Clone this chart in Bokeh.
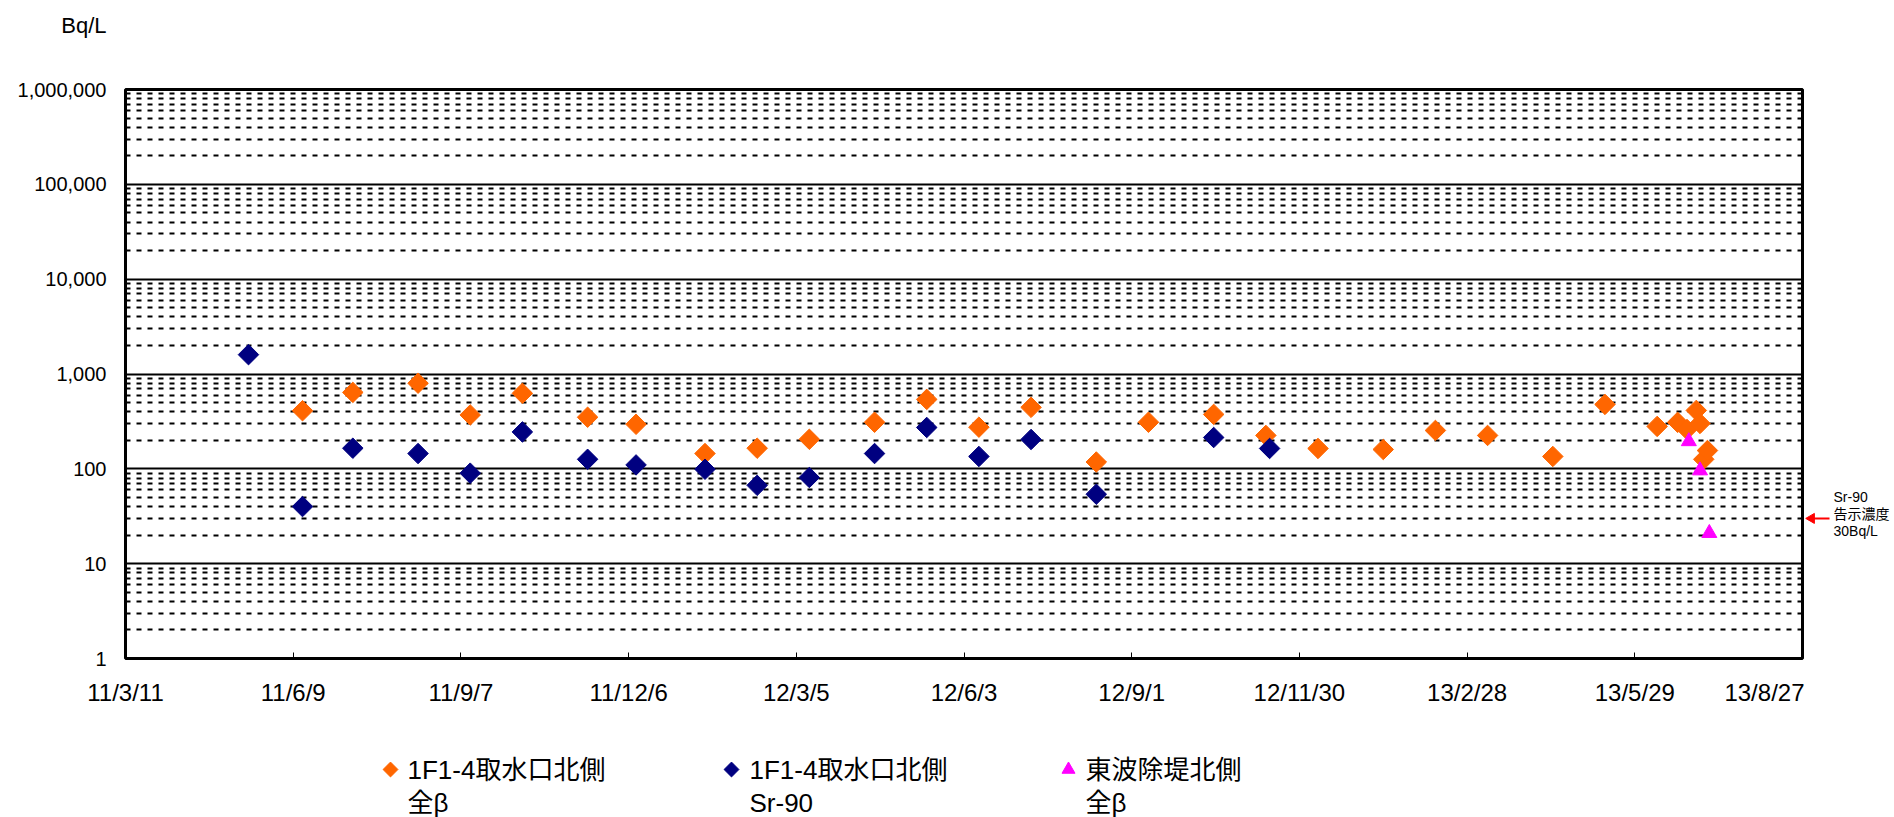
import numpy as np
import pandas as pd
from bokeh.plotting import figure
from bokeh.models import (Range1d, FixedTicker, NumeralTickFormatter, LinearAxis,
                          ColumnDataSource, GridBox)
from bokeh.embed import file_html
from bokeh.resources import INLINE
from bokeh.core.properties import value

# ---------------- data ----------------
origin = "2011-03-11"
tick_days = [0, 90, 180, 270, 360, 450, 540, 630, 720, 810, 900]
tick_labels = ["11/3/11", "11/6/9", "11/9/7", "11/12/6", "12/3/5", "12/6/3",
               "12/9/1", "12/11/30", "13/2/28", "13/5/29", "13/8/27"]
y_ticks = [1, 10, 100, 1000, 10000, 100000, 1000000]

beta_dates = ["2011-06-14", "2011-07-11", "2011-08-15", "2011-09-12", "2011-10-10",
              "2011-11-14", "2011-12-10", "2012-01-16", "2012-02-13", "2012-03-12",
              "2012-04-16", "2012-05-14", "2012-06-11", "2012-07-09", "2012-08-13",
              "2012-09-10", "2012-10-15", "2012-11-12", "2012-12-10", "2013-01-14",
              "2013-02-11", "2013-03-11", "2013-04-15", "2013-05-13", "2013-06-10",
              "2013-06-21", "2013-06-26", "2013-07-01", "2013-07-03", "2013-07-05",
              "2013-07-07"]
beta_vals = [410, 640, 800, 370, 625, 350, 295, 145, 165, 205,
             310, 540, 275, 445, 118, 310, 375, 225, 164, 160,
             254, 225, 135, 478, 280, 309, 260, 413, 301, 126, 156]

sr_dates = ["2011-05-16", "2011-06-14", "2011-07-11", "2011-08-15", "2011-09-12",
            "2011-10-10", "2011-11-14", "2011-12-10", "2012-01-16", "2012-02-13",
            "2012-03-12", "2012-04-16", "2012-05-14", "2012-06-11", "2012-07-09",
            "2012-08-13", "2012-10-15", "2012-11-14"]
sr_vals = [1600, 40, 165, 145, 90, 245, 126, 110, 99, 67,
           81, 145, 273, 135, 204, 54, 214, 164]

east_dates = ["2013-06-27", "2013-07-03", "2013-07-08"]
east_vals = [195, 96, 21]

series_names = [("1F1-4取水口北側", "全β"), ("1F1-4取水口北側", "Sr-90"), ("東波除堤北側", "全β")]
series_colors = ["#FF6600", "#000080", "#FF00FF"]
limit_value = 30
limit_text = ["Sr-90", "告示濃度", "30Bq/L"]
limit_text_y = [50, 33, 22]
unit_text = "Bq/L"

# ---------------- layout constants (page pixels) ----------------
FL, FR, FT, FB = 125, 1802, 89, 658
TOP_H = 60
MAIN_H = 660
LEG_H = 97
LEFT_W = FR + 2
RIGHT_W = 88
FONT = "'Liberation Sans', 'Noto Sans CJK JP'"


def to_days(dates):
    return list((pd.to_datetime(dates) - pd.Timestamp(origin)).days)


def blank(fig):
    fig.background_fill_color = "white"
    fig.border_fill_color = "white"
    fig.outline_line_color = None
    fig.grid.visible = False


# ---------------- top strip: unit label ----------------
top = figure(width=LEFT_W, height=TOP_H, x_range=Range1d(FL, FR), y_range=Range1d(TOP_H, 0),
             output_backend="svg", toolbar_location=None,
             min_border_left=FL, min_border_right=LEFT_W - FR, min_border_top=0, min_border_bottom=0,
             x_axis_location=None, y_axis_location=None)
blank(top)
unit_axis = LinearAxis(ticker=FixedTicker(ticks=[25]), major_label_overrides={25: unit_text},
                       major_tick_in=0, major_tick_out=0, minor_tick_in=0, minor_tick_out=0,
                       axis_line_color=None, major_label_standoff=FL - 106,
                       major_label_text_font=FONT, major_label_text_font_size="22px",
                       major_label_text_color="black")
top.add_layout(unit_axis, "left")

# ---------------- main chart ----------------
p = figure(width=LEFT_W, height=MAIN_H, y_axis_type="log",
           x_range=Range1d(tick_days[0], tick_days[-1]), y_range=Range1d(y_ticks[0], y_ticks[-1]),
           output_backend="svg", toolbar_location=None,
           min_border_left=FL, min_border_right=LEFT_W - FR,
           min_border_top=FT - TOP_H, min_border_bottom=TOP_H + MAIN_H - FB)
p.background_fill_color = "white"
p.border_fill_color = "white"
p.outline_line_color = "black"
p.outline_line_width = 3

minor = [m * d for d in y_ticks[:-1] for m in range(2, 10)]
p.yaxis.ticker = FixedTicker(ticks=y_ticks, minor_ticks=minor)
p.yaxis.formatter = NumeralTickFormatter(format="0,0")
p.yaxis.major_tick_in = 0
p.yaxis.major_tick_out = 0
p.yaxis.minor_tick_in = 0
p.yaxis.minor_tick_out = 0
p.yaxis.axis_line_color = None
p.yaxis.major_label_standoff = FL - 106
p.yaxis.major_label_text_font = "Liberation Sans"
p.yaxis.major_label_text_font_size = "20px"
p.yaxis.major_label_text_color = "black"

p.xaxis.ticker = FixedTicker(ticks=tick_days, minor_ticks=[])
p.xaxis.major_label_overrides = {d: t for d, t in zip(tick_days, tick_labels)}
p.xaxis.major_tick_in = 6
p.xaxis.major_tick_out = 0
p.xaxis.major_tick_line_color = "black"
p.xaxis.minor_tick_in = 0
p.xaxis.minor_tick_out = 0
p.xaxis.axis_line_color = None
p.xaxis.major_label_standoff = 20
p.xaxis.major_label_text_font = "Liberation Sans"
p.xaxis.major_label_text_font_size = "24px"
p.xaxis.major_label_text_color = "black"

p.xgrid.visible = False
p.ygrid.grid_line_color = "black"
p.ygrid.grid_line_width = 2.2
p.ygrid.minor_grid_line_color = "black"
p.ygrid.minor_grid_line_width = 2.2
p.ygrid.minor_grid_line_dash = "5 6"

src_beta = ColumnDataSource(dict(x=to_days(beta_dates), y=beta_vals))
src_sr = ColumnDataSource(dict(x=to_days(sr_dates), y=sr_vals))
src_east = ColumnDataSource(dict(x=to_days(east_dates), y=east_vals))

p.scatter("x", "y", source=src_beta, marker="square", angle=np.pi / 4, size=14.5,
          fill_color=series_colors[0], line_color=series_colors[0])
p.scatter("x", "y", source=src_sr, marker="square", angle=np.pi / 4, size=14.5,
          fill_color=series_colors[1], line_color=series_colors[1])
p.scatter("x", "y", source=src_east, marker="triangle", size=15,
          fill_color=series_colors[2], line_color=series_colors[2])

# ---------------- right strip: limit annotation ----------------
rf = figure(width=RIGHT_W, height=MAIN_H, y_axis_type="log",
            x_range=Range1d(LEFT_W, LEFT_W + RIGHT_W), y_range=Range1d(y_ticks[0], y_ticks[-1]),
            output_backend="svg", toolbar_location=None,
            min_border_left=0, min_border_right=0,
            min_border_top=FT - TOP_H, min_border_bottom=TOP_H + MAIN_H - FB,
            x_axis_location=None, y_axis_location=None)
blank(rf)
rf.text([1833] * 3, limit_text_y, text=limit_text, text_font=value(FONT),
        text_font_size="14px", text_baseline="middle", text_align="left", text_color="black")
rf.segment(x0=[1813], y0=[limit_value], x1=[1829], y1=[limit_value], line_color="red", line_width=2)
rf.scatter([1811], [limit_value], marker="triangle", angle=np.pi / 2, size=10,
           fill_color="red", line_color="red")

# ---------------- legend strip ----------------
lg = figure(width=LEFT_W, height=LEG_H, x_range=Range1d(FL, FR), y_range=Range1d(LEG_H, 0),
            output_backend="svg", toolbar_location=None,
            min_border_left=FL, min_border_right=LEFT_W - FR, min_border_top=0, min_border_bottom=0,
            x_axis_location=None, y_axis_location=None)
blank(lg)

leg_mx = [390, 731, 1068]
leg_tx = [407, 749, 1085]
y1, y2 = 769 - TOP_H - MAIN_H, 802 - TOP_H - MAIN_H
markers = ["square", "square", "triangle"]
angles = [np.pi / 4, np.pi / 4, 0]
sizes = [10.5, 10.5, 13]
for i in range(3):
    lg.scatter([leg_mx[i]], [y1], marker=markers[i], angle=angles[i], size=sizes[i],
               fill_color=series_colors[i], line_color=series_colors[i])
    lg.text([leg_tx[i], leg_tx[i]], [y1, y2], text=list(series_names[i]),
            text_font=value(FONT), text_font_size="26px", text_baseline="middle",
            text_align="left", text_color="black")

layout = GridBox(children=[(top, 0, 0), (p, 1, 0), (rf, 1, 1), (lg, 2, 0)], spacing=0)
open("out.html", "w").write(file_html(layout, INLINE))
